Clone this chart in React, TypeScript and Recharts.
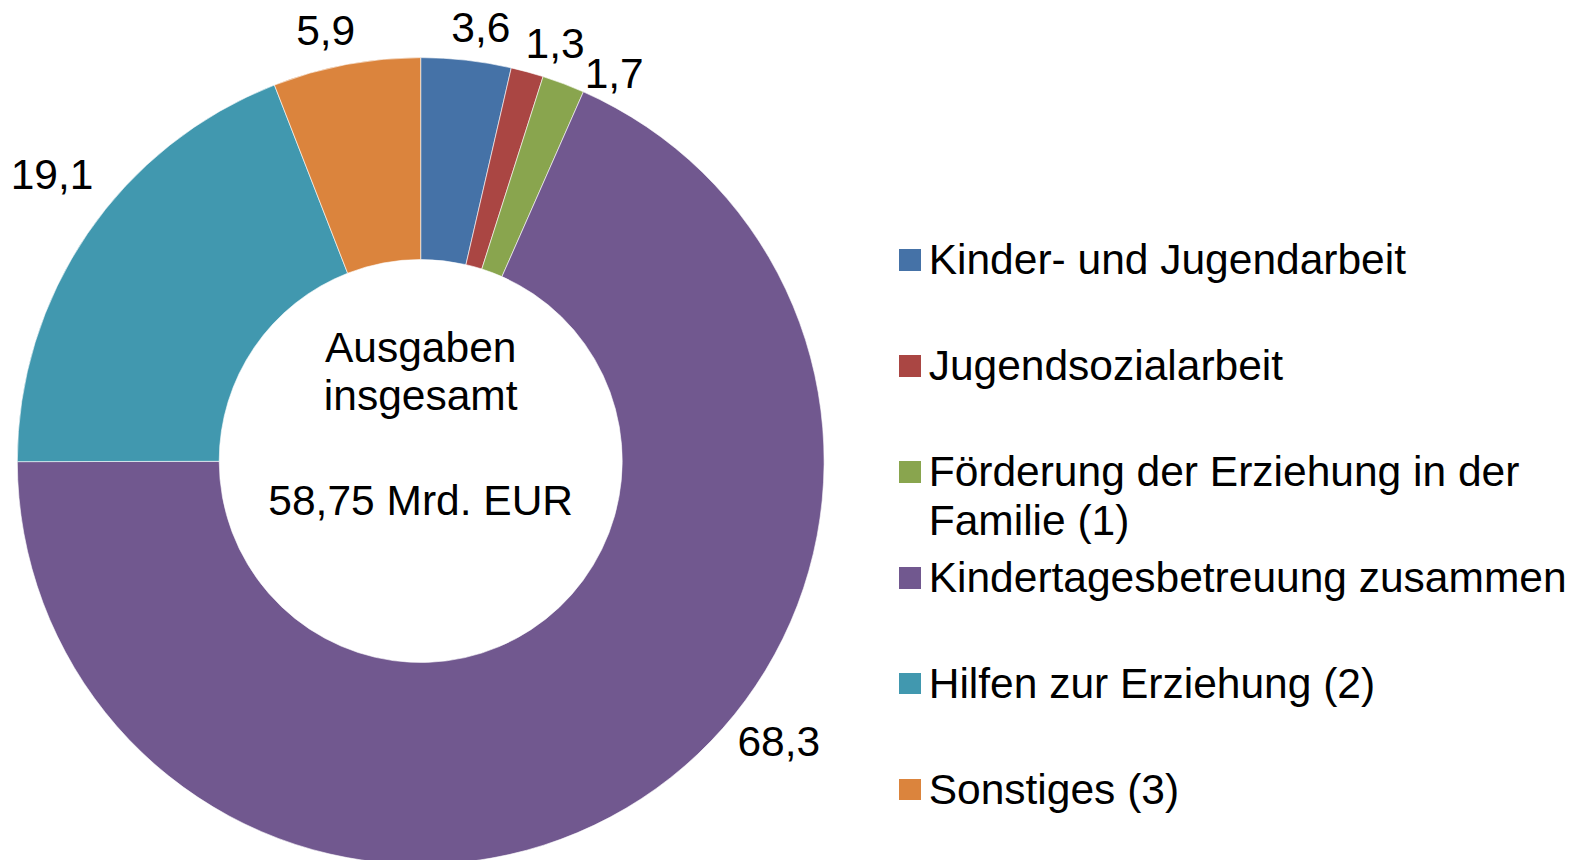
import React from 'react';
import { PieChart, Pie, Cell, Legend, Customized } from 'recharts';

// ---- data ----
const categories = [
  'Kinder- und Jugendarbeit',
  'Jugendsozialarbeit',
  'Förderung der Erziehung in der Familie (1)',
  'Kindertagesbetreuung zusammen',
  'Hilfen zur Erziehung (2)',
  'Sonstiges (3)',
];
const shares = [3.6, 1.3, 1.7, 68.3, 19.1, 5.9];
const colors = ['#4572A7', '#AA4643', '#89A54E', '#71588F', '#4198AF', '#DB843D'];
const centerLines = ['Ausgaben', 'insgesamt', '58,75 Mrd. EUR'];

// ---- style / layout ----
const W = 1585;
const H = 860;
const CX = 420.7;
const CY = 461;
const OUTER = 403.4;
const INNER = 201.5;
const FONT = '"Liberation Sans", Arial, Helvetica, sans-serif';
const FS = 42.5;
// label nudges (clockwise degrees from slice middle, extra radius beyond ring)
const labelShift = [1.4, 2.5, 5.8, -18.85, 3.6, -1.8];
const labelExtra = [35, 36, 30, 51, 64, 38];
// centre text baseline offsets from centre
const centerOffsets = [-99.3, -51, 54];

const data = categories.map((name, i) => ({ name, value: shares[i] }));

const fmt = (v: number) => v.toFixed(1).replace('.', ',');

const RAD = Math.PI / 180;

const renderLabel = (props: any) => {
  const { cx, cy, midAngle, outerRadius, index, value } = props;
  const ang = (midAngle - labelShift[index]) * RAD;
  const r = outerRadius + labelExtra[index];
  const x = cx + r * Math.cos(-ang);
  const y = cy + r * Math.sin(-ang);
  return (
    <text
      x={x}
      y={y + 0.358 * FS}
      textAnchor="middle"
      fill="#000"
      fontSize={FS}
      fontFamily={FONT}
    >
      {fmt(value)}
    </text>
  );
};

const LEGEND_LEFT = 899.3;
const LEGEND_TOP = 234.3;
const ROW_STEP = 105.9;

const renderLegend = () => {
  const items = categories.map((name, i) => ({ value: name, color: colors[i] }));
  return (
    <div style={{ position: 'relative', width: W - LEGEND_LEFT, height: 620 }}>
      {items.map((p, i) => (
        <div key={i} style={{ position: 'absolute', left: 0, top: i * ROW_STEP, width: W - LEGEND_LEFT }}>
          <div
            style={{
              position: 'absolute',
              left: 0,
              top: 14.85,
              width: 21.7,
              height: 21.7,
              background: p.color,
            }}
          />
          <div
            style={{
              position: 'absolute',
              left: 29.4,
              top: 2,
              width: 648,
              fontFamily: FONT,
              fontSize: FS,
              lineHeight: '48.6px',
              color: '#000',
              whiteSpace: 'normal',
            }}
          >
            {p.value}
          </div>
        </div>
      ))}
    </div>
  );
};

const CenterText = () => (
  <g>
    {centerLines.map((t, i) => (
      <text
        key={i}
        x={CX}
        y={CY + centerOffsets[i]}
        textAnchor="middle"
        fill="#000"
        fontSize={FS}
        fontFamily={FONT}
      >
        {t}
      </text>
    ))}
  </g>
);

export default function App() {
  return (
    <div
      style={{
        position: 'fixed',
        left: 0,
        top: 0,
        width: W,
        height: H,
        background: '#fff',
        overflow: 'hidden',
        fontFamily: FONT,
      }}
    >
      <PieChart width={W} height={H} margin={{ top: 0, right: 0, bottom: 0, left: 0 }}>
        <Pie
          data={data}
          dataKey="value"
          nameKey="name"
          cx={CX}
          cy={CY}
          innerRadius={INNER}
          outerRadius={OUTER}
          startAngle={90}
          endAngle={-270}
          stroke="#ffffff"
          strokeWidth={0.6}
          label={renderLabel}
          labelLine={false}
          isAnimationActive={false}
        >
          {data.map((_, i) => (
            <Cell key={i} fill={colors[i]} />
          ))}
        </Pie>
        <Legend
          layout="vertical"
          align="right"
          verticalAlign="middle"
          itemSorter={null as any}
          content={renderLegend}
          wrapperStyle={{ position: 'absolute', left: LEGEND_LEFT, top: LEGEND_TOP, width: W - LEGEND_LEFT, height: 620 }}
        />
        <Customized component={CenterText} />
      </PieChart>
    </div>
  );
}
